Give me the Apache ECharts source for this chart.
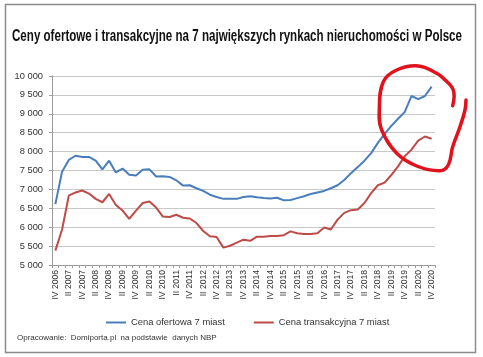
<!DOCTYPE html>
<html><head><meta charset="utf-8">
<script src="https://cdn.jsdelivr.net/npm/echarts@6/dist/echarts.min.js"></script>
<style>html,body{margin:0;padding:0;background:#fff}#c{width:483px;height:357px}</style>
</head><body><div id="c"></div>
<script>
var categories = ["IV 2006",
 "I 2007","II 2007","III 2007","IV 2007",
 "I 2008","II 2008","III 2008","IV 2008",
 "I 2009","II 2009","III 2009","IV 2009",
 "I 2010","II 2010","III 2010","IV 2010",
 "I 2011","II 2011","III 2011","IV 2011",
 "I 2012","II 2012","III 2012","IV 2012",
 "I 2013","II 2013","III 2013","IV 2013",
 "I 2014","II 2014","III 2014","IV 2014",
 "I 2015","II 2015","III 2015","IV 2015",
 "I 2016","II 2016","III 2016","IV 2016",
 "I 2017","II 2017","III 2017","IV 2017",
 "I 2018","II 2018","III 2018","IV 2018",
 "I 2019","II 2019","III 2019","IV 2019",
 "I 2020","II 2020","III 2020","IV 2020"];
var ofertowa = [6610,7470,7780,7890,7860,7860,7760,7530,7760,7450,7550,7390,7370,7520,7530,7340,7350,7330,7240,7100,7110,7030,6960,6860,6800,6750,6750,6750,6800,6820,6790,6770,6760,6780,6710,6720,6770,6820,6880,6920,6960,7030,7110,7250,7430,7590,7760,7960,8230,8470,8680,8870,9050,9470,9390,9470,9720];
var transakcyjna = [5380,5940,6835,6920,6970,6890,6750,6660,6880,6590,6440,6220,6440,6640,6680,6520,6280,6270,6330,6250,6230,6110,5900,5760,5740,5460,5510,5590,5670,5640,5750,5750,5770,5770,5790,5890,5840,5820,5820,5840,5990,5940,6200,6380,6450,6470,6640,6900,7110,7180,7380,7610,7880,8050,8290,8400,8340];
var seriesNames = ["Cena ofertowa 7 miast","Cena transakcyjna 7 miast"];
var titleText = "Ceny ofertowe i transakcyjne na 7 największych rynkach nieruchomości w Polsce";
var footerText = "Opracowanie:  Domiporta.pl  na podstawie  danych NBP";

var chart = echarts.init(document.getElementById('c'), null, {renderer:'canvas'});
var sans = '"Liberation Sans",Arial,sans-serif';
var titleFont = 'bold 16px "Liberation Sans",Arial,sans-serif';
var ctx = document.createElement('canvas').getContext('2d');
ctx.font = titleFont;
var titleScale = 450 / ctx.measureText(titleText).width;

chart.setOption({
  animation:false,
  backgroundColor:'#fff',
  grid:{left:52,right:48,top:76,bottom:92,containLabel:false},
  xAxis:{type:'category',data:categories,boundaryGap:true,
    axisLine:{lineStyle:{color:'#9a9a9a',width:1}},
    axisTick:{show:true,interval:0,length:3,lineStyle:{color:'#9a9a9a'}},
    axisLabel:{interval:1,rotate:90,fontSize:8.6,color:'#333',fontFamily:sans,margin:5},
    splitLine:{show:false}},
  yAxis:{type:'value',min:5000,max:10000,interval:500,
    axisLine:{show:true,lineStyle:{color:'#9a9a9a'}},
    axisTick:{show:true,length:3,lineStyle:{color:'#9a9a9a'}},
    axisLabel:{fontSize:9.3,color:'#333',margin:9,fontFamily:sans,
      formatter:function(v){var s=String(v);return s.length>3?s.slice(0,s.length-3)+' '+s.slice(-3):s;}},
    splitLine:{lineStyle:{color:'#c8c8c8',width:1}}},
  legend:{left:101,top:313,itemWidth:20,itemHeight:2,icon:'rect',itemGap:29,
    textStyle:{fontSize:9.4,color:'#333',fontFamily:sans},
    data:seriesNames},
  series:[
    {name:seriesNames[0],type:'line',data:ofertowa,symbol:'none',lineStyle:{color:'#4a7ebb',width:2},itemStyle:{color:'#4a7ebb'}},
    {name:seriesNames[1],type:'line',data:transakcyjna,symbol:'none',lineStyle:{color:'#be4b48',width:2},itemStyle:{color:'#be4b48'}}
  ],
  graphic:[
    {type:'rect',shape:{x:5.5,y:4.5,width:470,height:348},style:{fill:null,stroke:'#8c8c8c',lineWidth:1.5},z:-1},
    {type:'text',x:237,y:37,scaleX:titleScale,scaleY:1,style:{text:titleText,font:titleFont,fill:'#111',align:'center',verticalAlign:'middle'}},
    {type:'text',x:17,y:338,style:{text:footerText,fontSize:8,fontFamily:sans,fill:'#333',align:'left',verticalAlign:'middle'}},
    {type:'polyline',shape:{smooth:0.4,points:[[452.7,105.7],[453.3,90],[443.3,78.3],[436.7,73.3],[418.3,66],[396.7,70],[383.3,81.7],[379.3,110],[381.7,130],[396.7,153.3],[416.7,166],[440,170.7],[448.3,165],[452.7,146.7],[460,126.7],[465,110],[466,100]]},
     style:{stroke:'#e0121b',lineWidth:3.5,fill:null,lineCap:'round',lineJoin:'round'},z:100}
  ]
});
</script></body></html>
